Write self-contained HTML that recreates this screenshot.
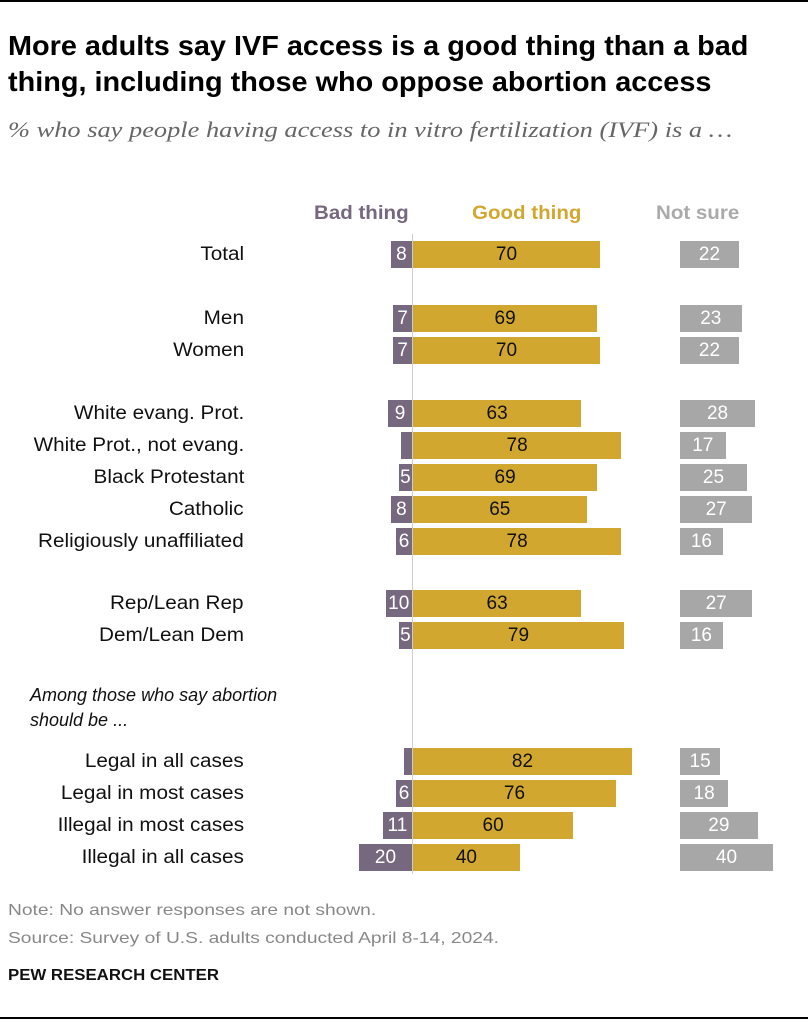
<!DOCTYPE html>
<html><head><meta charset="utf-8"><style>
body{margin:0;width:808px;height:1023px;background:#fff;position:relative;font-family:"Liberation Sans",sans-serif;overflow:hidden}
.a{position:absolute;white-space:nowrap;transform-origin:left center}
.t{left:8px;font-size:28px;font-weight:bold;color:#000;line-height:36px;transform:scaleX(1.03)}
.lab{position:absolute;right:564px;font-size:19px;color:#111;text-align:right;white-space:nowrap;line-height:27px;transform:scaleX(1.09);transform-origin:right center}
.b{position:absolute;height:27px;line-height:27px;font-size:19px;text-align:center}
.bad{background:#76687e;color:#fff}
.good{background:#d1a730;color:#111}
.ns{background:#a7a7a7;color:#fff}
.h{font-size:19px;font-weight:bold;top:203px;transform:scaleX(1.08)}
</style></head><body>
<div class="a" style="left:0;top:0;width:808px;height:2px;background:#000"></div>
<div class="a t" style="top:28px">More adults say IVF access is a good thing than a bad</div>
<div class="a t" style="top:64px">thing, including those who oppose abortion access</div>
<div class="a" style="left:8px;top:117px;font-family:'Liberation Serif',serif;font-style:italic;font-size:22px;color:#666;transform:scaleX(1.2)">% who say people having access to in vitro fertilization (IVF) is a …</div>
<div class="a h" style="left:314px;color:#76687e">Bad thing</div>
<div class="a h" style="left:472px;color:#d1a730">Good thing</div>
<div class="a h" style="left:656px;color:#aaa">Not sure</div>
<div class="a" style="left:412px;top:234px;width:1px;height:640px;background:#ccc"></div>
<div class="a" style="left:30px;top:683px;font-size:18px;font-style:italic;color:#111;line-height:25px;transform:scaleX(1.0)">Among those who say abortion<br>should be ...</div>
<div id="rows"></div>
<div class="a" style="left:8px;top:902px;font-size:16px;color:#888;transform:scaleX(1.2)">Note: No answer responses are not shown.</div>
<div class="a" style="left:8px;top:930px;font-size:16px;color:#888;transform:scaleX(1.2)">Source: Survey of U.S. adults conducted April 8-14, 2024.</div>
<div class="a" style="left:8px;top:967px;font-size:16px;font-weight:bold;color:#111;transform:scaleX(1.05)">PEW RESEARCH CENTER</div>
<div class="a" style="left:0;top:1017px;width:808px;height:2px;background:#000"></div>
<script>
var d=[["Total",241,8,70,22,1],["Men",305,7,69,23],["Women",337,7,70,22],["White evang. Prot.",400,9,63,28],["White Prot., not evang.",432,4,78,17,0],["Black Protestant",464,5,69,25],["Catholic",496,8,65,27],["Religiously unaffiliated",528,6,78,16],["Rep/Lean Rep",590,10,63,27],["Dem/Lean Dem",622,5,79,16],["Legal in all cases",748,3,82,15,0],["Legal in most cases",780,6,76,18],["Illegal in most cases",812,11,60,29],["Illegal in all cases",844,20,40,40]];
var h="";d.forEach(function(r){var y=r[1];var sh=r.length<6||r[5]==1;
h+='<div class="lab" style="top:'+y+'px">'+r[0]+'</div>';
var bw=r[2]*2.65;h+='<div class="b bad" style="left:'+(412-bw)+'px;top:'+y+'px;width:'+bw+'px">'+(sh?r[2]:'')+'</div>';
var gw=r[3]*2.67;h+='<div class="b good" style="left:413px;top:'+y+'px;width:'+gw+'px">'+r[3]+'</div>';
var nw=r[4]==40?93:r[4]*2.68;h+='<div class="b ns" style="left:680px;top:'+y+'px;width:'+nw+'px">'+r[4]+'</div>';});
document.getElementById("rows").innerHTML=h;
</script>
</body></html>
